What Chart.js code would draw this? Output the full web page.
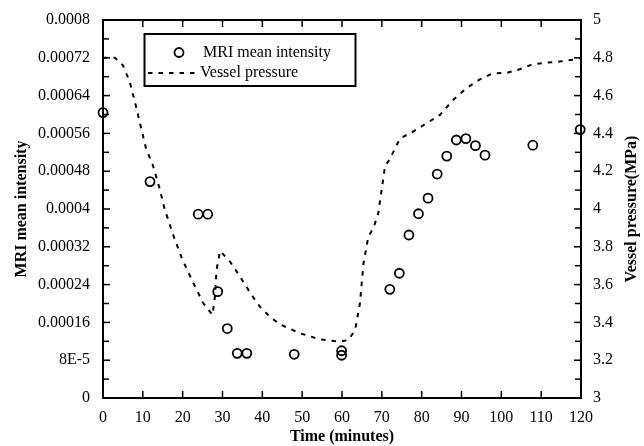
<!DOCTYPE html>
<html><head><meta charset="utf-8">
<script src="https://cdn.jsdelivr.net/npm/chart.js@4.4.0/dist/chart.umd.min.js"></script>
<style>html,body{margin:0;padding:0;background:#fff;}#wrap{width:644px;height:446px;}</style>
</head><body><div id="wrap"><canvas id="c" width="644" height="446"></canvas></div>
<script>
const mriTime = [0, 11.8, 23.9, 26.3, 28.8, 31.2, 33.7, 36.1, 48.0, 59.9, 59.9, 72.0, 74.4, 76.8, 79.2, 81.6, 83.9, 86.3, 88.7, 91.1, 93.5, 95.9, 107.9, 119.8];
const mriIntensity = [0.000604, 0.000458, 0.000389, 0.000389, 0.000225, 0.000147, 0.0000945, 0.0000945, 0.0000925, 0.0001, 0.0000905, 0.00023, 0.000264, 0.000345, 0.00039, 0.000423, 0.000474, 0.000512, 0.000546, 0.000549, 0.000534, 0.000514, 0.000535, 0.000568];
const pressureTime = [0, 3, 5, 6.7, 8, 9.2, 10.8, 12.5, 14.2, 15.4, 17.5, 19.8, 22.7, 25.2, 27.5, 28.1, 28.5, 29.4, 31.9, 34.4, 37.3, 39.4, 41.9, 44.4, 49.5, 54.5, 59.5, 61.6, 63.3, 64.5, 65.4, 66.6, 67.9, 69.1, 70.8, 72.1, 74.6, 77.9, 81.25, 84.6, 87.9, 91.25, 94.6, 97.9, 101.25, 104.6, 107.9, 111.25, 114.6, 117.9, 120];
const pressureMPa = [4.80, 4.80, 4.76, 4.674, 4.568, 4.462, 4.32, 4.233, 4.11, 4.005, 3.87, 3.739, 3.607, 3.501, 3.44, 3.536, 3.677, 3.778, 3.721, 3.642, 3.545, 3.483, 3.43, 3.39, 3.342, 3.31, 3.298, 3.307, 3.36, 3.50, 3.713, 3.853, 3.90, 3.977, 4.225, 4.269, 4.374, 4.41, 4.454, 4.498, 4.577, 4.639, 4.686, 4.718, 4.72, 4.739, 4.766, 4.774, 4.78, 4.79, 4.80];
const xTickLabels = ['0','10','20','30','40','50','60','70','80','90','100','110','120'];
const leftTickLabels = ['0','8E-5','0.00016','0.00024','0.00032','0.0004','0.00048','0.00056','0.00064','0.00072','0.0008'];
const rightTickLabels = ['3','3.2','3.4','3.6','3.8','4','4.2','4.4','4.6','4.8','5'];
const seriesNames = ['MRI mean intensity', 'Vessel pressure'];
const axisTitles = ['Time (minutes)', 'MRI mean intensity', 'Vessel pressure(MPa)'];

const FONT = 'Liberation Serif, Times New Roman, serif';
const tickFont = {family: FONT, size: 16};
const titleFont = {family: FONT, size: 16, weight: 'bold'};
const DASH = [4.5, 6];

const framePlugin = {
  id: 'frame',
  afterDraw(chart) {
    const ctx = chart.ctx;
    const {left, right, top, bottom} = chart.chartArea;
    const {x, y, y2} = chart.scales;
    ctx.save();
    ctx.strokeStyle = '#000';
    ctx.lineWidth = 1.5;
    const line = (a, b, c, d) => { ctx.beginPath(); ctx.moveTo(a, b); ctx.lineTo(c, d); ctx.stroke(); };
    xTickLabels.forEach(v => {
      const px = x.getPixelForValue(Number(v));
      line(px, bottom, px, bottom - 7);
      line(px, top, px, top + 7);
    });
    for (let i = 0; i < leftTickLabels.length; i++) {
      const v = Number(leftTickLabels[i]);
      const py = y.getPixelForValue(v);
      line(left, py, left + 7, py);
      if (i < leftTickLabels.length - 1) {
        const vm = (v + Number(leftTickLabels[i + 1])) / 2;
        const pm = y.getPixelForValue(vm);
        line(left, pm, left + 6, pm);
      }
    }
    for (let i = 0; i < rightTickLabels.length; i++) {
      const v = Number(rightTickLabels[i]);
      const py = y2.getPixelForValue(v);
      line(right, py, right - 7, py);
      if (i < rightTickLabels.length - 1) {
        const vm = (v + Number(rightTickLabels[i + 1])) / 2;
        const pm = y2.getPixelForValue(vm);
        line(right, pm, right - 6, pm);
      }
    }
    ctx.lineWidth = 2;
    ctx.strokeRect(left, top, right - left, bottom - top);

    // legend
    ctx.lineWidth = 2;
    ctx.strokeRect(144.5, 34, 211, 52);
    ctx.beginPath();
    ctx.arc(179, 52.5, 4.5, 0, Math.PI * 2);
    ctx.lineWidth = 1.8;
    ctx.stroke();
    ctx.setLineDash(DASH);
    ctx.lineWidth = 2;
    line(148, 73, 199, 73);
    ctx.setLineDash([]);
    ctx.fillStyle = '#000';
    ctx.font = '16px ' + FONT;
    ctx.textBaseline = 'middle';
    ctx.textAlign = 'left';
    ctx.fillText(seriesNames[0], 203, 53);
    ctx.fillText(seriesNames[1], 200, 73);

    // right axis title (reads bottom to top)
    ctx.save();
    ctx.translate(632, (top + bottom) / 2);
    ctx.rotate(-Math.PI / 2);
    ctx.font = 'bold 16px ' + FONT;
    ctx.textAlign = 'center';
    ctx.fillText(axisTitles[2], 0, 0);
    ctx.restore();
    ctx.restore();
  }
};

new Chart(document.getElementById('c'), {
  type: 'scatter',
  data: {
    datasets: [
      {
        label: seriesNames[0],
        data: mriTime.map((t, i) => ({x: t, y: mriIntensity[i]})),
        yAxisID: 'y',
        showLine: false,
        pointStyle: 'circle',
        pointRadius: 4.5,
        pointBorderWidth: 1.8,
        pointBorderColor: '#000',
        pointBackgroundColor: 'rgba(0,0,0,0)',
        clip: false
      },
      {
        label: seriesNames[1],
        data: pressureTime.map((t, i) => ({x: t, y: pressureMPa[i]})),
        yAxisID: 'y2',
        showLine: true,
        borderColor: '#000',
        borderWidth: 2,
        borderDash: DASH,
        pointRadius: 0,
        tension: 0
      }
    ]
  },
  options: {
    responsive: false,
    animation: false,
    devicePixelRatio: 1,
    layout: {padding: {top: 20, left: 0, right: 0, bottom: 0}},
    plugins: {legend: {display: false}, tooltip: {enabled: false}},
    scales: {
      x: {
        type: 'linear', min: 0, max: 120,
        grid: {display: false}, border: {display: false},
        ticks: {stepSize: 10, font: tickFont, color: '#000', padding: 2, maxRotation: 0,
          callback: (v, i) => xTickLabels[i]},
        title: {display: true, text: axisTitles[0], font: titleFont, color: '#000', padding: {top: 0, bottom: 0}},
        afterFit: s => { s.height = 48; }
      },
      y: {
        type: 'linear', position: 'left', min: 0, max: 0.0008,
        grid: {display: false}, border: {display: false},
        ticks: {stepSize: 0.00008, font: tickFont, color: '#000', padding: 5,
          callback: (v, i) => leftTickLabels[i]},
        title: {display: true, text: axisTitles[1], font: titleFont, color: '#000', padding: {top: 12, bottom: 0}},
        afterFit: s => { s.width = 103; }
      },
      y2: {
        type: 'linear', position: 'right', min: 3, max: 5,
        grid: {display: false}, border: {display: false},
        ticks: {stepSize: 0.2, font: tickFont, color: '#000', padding: 4,
          callback: (v, i) => rightTickLabels[i]},
        afterFit: s => { s.width = 63; }
      }
    }
  },
  plugins: [framePlugin]
});
</script>
</body></html>
